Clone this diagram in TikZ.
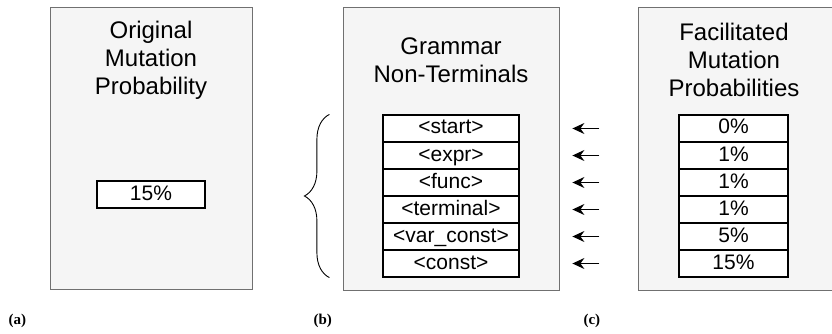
\documentclass[tikz,border=0pt]{standalone}
\usepackage{fontspec}
\newfontfamily\arialfont{Liberation Sans}
\newfontfamily\capfont{Liberation Serif}
\usetikzlibrary{arrows.meta,decorations.pathreplacing}
\definecolor{panelfill}{HTML}{F5F5F5}
\definecolor{panelline}{HTML}{707070}
\tikzset{
  panel/.style={draw=panelline,fill=panelfill,line width=0.9pt,inner sep=0pt},
  heading/.style={align=center,font=\arialfont\fontsize{24}{28}\selectfont},
  cell/.style={draw=black,fill=white,line width=1.2pt,inner sep=0pt,
    minimum height=27pt,text height=15pt,text depth=4pt,
    font=\arialfont\fontsize{21}{24}\selectfont},
  sublabel/.style={anchor=west,font=\capfont\bfseries\fontsize{15}{17}\selectfont},
  fwd/.style={-{Stealth[length=12pt,width=11pt,inset=4pt]},line width=1.2pt}
}
\begin{document}
\begin{tikzpicture}[x=1pt,y=-1pt]
	\useasboundingbox (0,0) rectangle (832,334);
	% panels
	\node[panel,minimum width=202pt,minimum height=282pt] (pa) at (151,148) {};
	\node[panel,minimum width=216pt,minimum height=283pt] (pb) at (451,148.5) {};
	\node[panel,minimum width=206pt,minimum height=283pt] (pc) at (741,148.5) {};
	\node[heading] (ha) at (151,60) {Original\\Mutation\\Probability};
	\node[heading] (hb) at (451,60) {Grammar\\Non-Terminals};
	\node[heading] (hc) at (734,60) {Facilitated\\Mutation\\Probabilities};
	% (a)
	\node[cell,minimum width=108pt] (a1) at (151,194.5) {15\%};
	% (b) and (c)
	\foreach \nt [count=\i] in {<start>,<expr>,<func>,<terminal>,<var\_const>,<const>}
		\node[cell,minimum width=136pt] (b\i) at (451,101.5+27*\i) {\nt};
	\foreach \p [count=\i] in {0,1,1,1,5,15}
		\node[cell,minimum width=109pt] (c\i) at (733.5,101.5+27*\i) {\p\%};
	\coordinate (bracelow) at ([xshift=-53pt]b6.south west);
	\coordinate (bracehigh) at ([xshift=-53pt]b1.north west);
	\draw[line width=0.9pt,decorate,decoration={brace,amplitude=25pt}] (bracelow) -- (bracehigh);
	\foreach \i in {1,...,6}
		\draw[fwd] ([xshift=-79pt]c\i.west) -- ++(-27,0);
	\node[sublabel] (la) at (5,321) {(a)};
	\node[sublabel] (lb) at (310,321) {(b)};
	\node[sublabel] (lc) at (580,321) {(c)};
\end{tikzpicture}
\end{document}
